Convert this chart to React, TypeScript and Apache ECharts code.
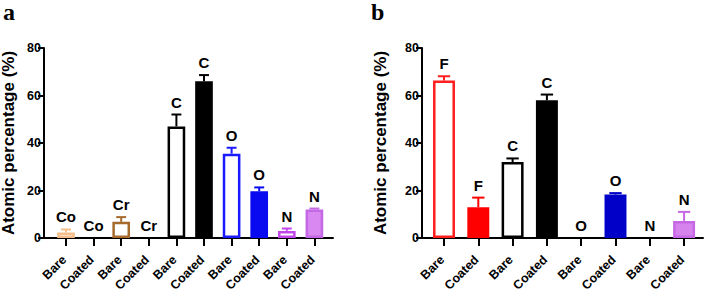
import React, { useEffect, useRef } from 'react';
import * as echarts from 'echarts';

// ---- data ----
const categoriesA = ['Bare', 'Coated', 'Bare', 'Coated', 'Bare', 'Coated', 'Bare', 'Coated', 'Bare', 'Coated'];
const elementsA = ['Co', 'Co', 'Cr', 'Cr', 'C', 'C', 'O', 'O', 'N', 'N'];
const valuesA = [2.3, 0, 6.8, 0, 47, 66, 35.5, 19.7, 3, 12];
const errorsA = [1.3, 0, 2, 0, 5, 2.6, 2.5, 1.6, 1, 0.4];

const categoriesB = ['Bare', 'Coated', 'Bare', 'Coated', 'Bare', 'Coated', 'Bare', 'Coated'];
const elementsB = ['F', 'F', 'C', 'C', 'O', 'O', 'N', 'N'];
const valuesB = [66.3, 13, 32, 58, 0, 18.3, 0, 7.2];
const errorsB = [1.8, 4, 1.5, 2.4, 0, 0.6, 0, 3.8];

const yMin = 0;
const yMax = 80;
const yStep = 20;
const yTitle = 'Atomic percentage (%)';
const panelLetters = ['a', 'b'];

// ---- styles ----
const strokeA = ['#F5BE8A', '#F5BE8A', '#A66A2C', '#A66A2C', '#000000', '#000000', '#1A1AFF', '#0A0AF0', '#C147EA', '#C468E6'];
const fillA = ['#FFFFFF', '#F5BE8A', '#FFFFFF', '#A66A2C', '#FFFFFF', '#000000', '#FFFFFF', '#0A0AF0', '#FFFFFF', '#D888F0'];
const strokeB = ['#FF1F1F', '#FF0000', '#000000', '#000000', '#0000C8', '#0000C8', '#C147EA', '#C667E6'];
const fillB = ['#FFFFFF', '#FF0000', '#FFFFFF', '#000000', '#FFFFFF', '#0000C8', '#FFFFFF', '#D783EE'];

const FONT = 'Arial, "Liberation Sans", sans-serif';
const BAR_FRAC = 0.64;

function barSeries(values: number[], stroke: string[], fill: string[], gridIdx: number) {
  return {
    type: 'bar',
    xAxisIndex: gridIdx,
    yAxisIndex: gridIdx,
    barWidth: BAR_FRAC * 100 + '%',
    z: 2,
    data: values.map((v, i) => ({
      value: v,
      itemStyle: { color: fill[i], borderColor: stroke[i], borderWidth: v > 0 ? 2.5 : 0 },
    })),
  };
}

function errSeries(values: number[], errors: number[], elements: string[], stroke: string[], gridIdx: number) {
  return {
    type: 'custom',
    xAxisIndex: gridIdx,
    yAxisIndex: gridIdx,
    z: 5,
    encode: { x: 0, y: 1 },
    data: values.map((v, i) => [i, v, errors[i]]),
    renderItem: (params: any, api: any) => {
      const i = api.value(0);
      const v = api.value(1);
      const e = api.value(2);
      const base = api.coord([i, v]);
      const top = api.coord([i, v + e]);
      const w = api.size([1, 0])[0];
      const cap = w * 0.18;
      const children: any[] = [];
      if (e > 0) {
        children.push({
          type: 'line',
          shape: { x1: base[0], y1: base[1], x2: top[0], y2: top[1] },
          style: { stroke: stroke[i], lineWidth: 2 },
        });
        children.push({
          type: 'line',
          shape: { x1: top[0] - cap, y1: top[1], x2: top[0] + cap, y2: top[1] },
          style: { stroke: stroke[i], lineWidth: 2 },
        });
      }
      children.push({
        type: 'text',
        x: top[0],
        y: top[1] - 5,
        style: {
          text: elements[i],
          fill: '#000',
          font: 'bold 15px ' + FONT,
          align: 'center',
          verticalAlign: 'bottom',
        },
      });
      return { type: 'group', children };
    },
  };
}

function frameAxes(gridIdx: number, nameGap: number) {
  return {
    x: {
      type: 'category',
      gridIndex: gridIdx,
      data: [''],
      axisLine: { show: true, lineStyle: { color: '#000', width: 2 } },
      axisTick: { show: false },
      axisLabel: { show: false },
      splitLine: { show: false },
    },
    y: {
      type: 'value',
      gridIndex: gridIdx,
      min: yMin,
      max: yMax,
      interval: yStep,
      name: yTitle,
      nameLocation: 'middle',
      nameGap,
      nameTextStyle: { fontFamily: FONT, fontWeight: 'bold', fontSize: 17, color: '#000' },
      axisLine: { show: true, lineStyle: { color: '#000', width: 2 } },
      axisTick: { show: true, length: 6, lineStyle: { color: '#000', width: 2 } },
      axisLabel: { fontFamily: FONT, fontWeight: 'bold', fontSize: 12.5, color: '#000', margin: 3 },
      splitLine: { show: false },
    },
  };
}

function barAxes(gridIdx: number, categories: string[]) {
  return {
    x: {
      type: 'category',
      gridIndex: gridIdx,
      data: categories,
      boundaryGap: true,
      axisLine: { show: false },
      axisTick: { show: true, alignWithLabel: true, length: 8, lineStyle: { color: '#000', width: 2 } },
      axisLabel: {
        interval: 0,
        rotate: 45,
        margin: 18,
        align: 'right',
        verticalAlign: 'middle',
        padding: [0, 2.4, 0, 0],
        fontFamily: FONT,
        fontWeight: 'bold',
        fontSize: 12.5,
        color: '#000',
      },
      splitLine: { show: false },
    },
    y: {
      type: 'value',
      gridIndex: gridIdx,
      min: yMin,
      max: yMax,
      interval: yStep,
      show: false,
      splitLine: { show: false },
    },
  };
}

export default function App() {
  const ref = useRef<HTMLDivElement>(null);
  useEffect(() => {
    if (!ref.current) return;
    const chart = echarts.init(ref.current, null, { renderer: 'svg' });
    const fA = frameAxes(0, 27);
    const bA = barAxes(1, categoriesA);
    const fB = frameAxes(2, 33);
    const bB = barAxes(3, categoriesB);
    const letterFont = 'bold 24px "Liberation Serif", "Times New Roman", serif';
    const gridBase = { top: 48, height: 190, containLabel: false, outerBoundsMode: 'none' };
    chart.setOption({
      animation: false,
      backgroundColor: '#fff',
      grid: [
        { ...gridBase, left: 44, width: 289 },
        { ...gridBase, left: 52.2, width: 276 },
        { ...gridBase, left: 422, width: 281 },
        { ...gridBase, left: 426.85, width: 274.4 },
      ],
      xAxis: [fA.x, bA.x, fB.x, bB.x],
      yAxis: [fA.y, bA.y, fB.y, bB.y],
      graphic: [
        { type: 'text', left: 3, top: 0, style: { text: panelLetters[0], font: letterFont, fill: '#000' } },
        { type: 'text', left: 371, top: 0, style: { text: panelLetters[1], font: letterFont, fill: '#000' } },
      ],
      series: [
        barSeries(valuesA, strokeA, fillA, 1),
        errSeries(valuesA, errorsA, elementsA, strokeA, 1),
        barSeries(valuesB, strokeB, fillB, 3),
        errSeries(valuesB, errorsB, elementsB, strokeB, 3),
      ],
    });
    return () => chart.dispose();
  }, []);
  return <div ref={ref} style={{ position: 'absolute', left: 0, top: 0, width: 708, height: 295 }} />;
}
